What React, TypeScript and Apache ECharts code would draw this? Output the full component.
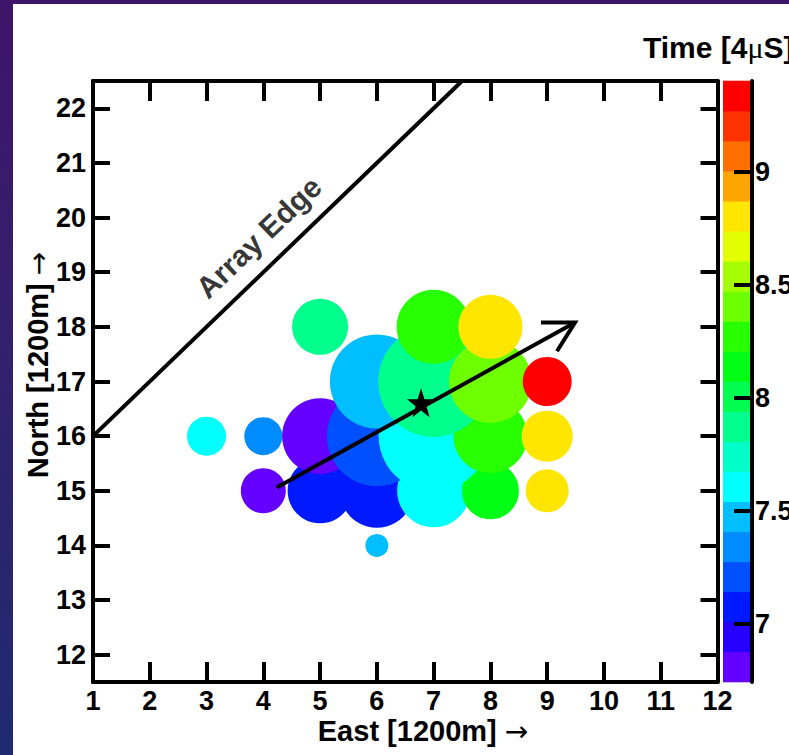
import React, { useEffect, useRef } from "react";
import * as echarts from "echarts";

// ---------- data ----------
const xTicks = [1, 2, 3, 4, 5, 6, 7, 8, 9, 10, 11, 12];
const yTicks = [12, 13, 14, 15, 16, 17, 18, 19, 20, 21, 22];
const colorTicks = [7, 7.5, 8, 8.5, 9];
const timeMin = 6.743;
const timeMax = 9.404;
const palette = [
  "#6400ff", "#2800ff", "#0019ff", "#0050ff", "#008cff",
  "#00beff", "#00ffff", "#00ffc8", "#00ff8c", "#00ff50",
  "#00ff14", "#28ff00", "#6eff00", "#a5ff00", "#e1ff00",
  "#ffe600", "#ffa500", "#ff6e00", "#ff3300", "#ff0000",
];

// detector stations (drawn south to north, west to east)
const stationEast = [6, 4, 5, 6, 7, 8, 9, 3, 4, 5, 6, 7, 8, 9, 6, 7, 8, 9, 5, 7, 8];
const stationNorth = [14, 15, 15, 15, 15, 15, 15, 16, 16, 16, 16, 16, 16, 16, 17, 17, 17, 17, 18, 18, 18];
const stationSize = [23, 45, 65, 74, 73, 57, 43, 39, 38, 76, 100, 110, 74, 51, 94, 111, 83, 49, 56, 74, 64];
const stationTime = [7.47, 6.78, 7.08, 7.09, 7.6, 8.13, 8.8, 7.62, 7.34, 6.8, 7.21, 7.61, 8.27, 8.81, 7.48, 7.87, 8.41, 9.38, 7.88, 8.26, 8.79];

const edgeLine = [[1, 16], [7.5, 22.5]];
const edgeLabelPos = [3.92, 19.64];
const showerArrow = [[4.236, 15.06, 9.49, 18.08]];
const corePos = [[6.778, 16.613]];

const FONT = "'Liberation Sans', Arial, Helvetica, sans-serif";
const STAR = "path://M50,0 L61.8,35.1 L98.1,35.1 L68.8,56.8 L79.4,91 L50,70 L20.6,91 L31.2,56.8 L1.9,35.1 L38.2,35.1 Z";

export default function App() {
  const ref = useRef<HTMLDivElement>(null);

  useEffect(() => {
    document.body.style.margin = "0";
    if (!ref.current) return;
    const chart = echarts.init(ref.current, undefined, { renderer: "svg" });

    const step = (timeMax - timeMin) / palette.length;
    const bands = palette.map((_, i) => [timeMin + i * step, timeMin + (i + 1) * step, i]);
    const pieces = palette.map((c, i) =>
      i === palette.length - 1
        ? { gte: timeMin + i * step, lte: timeMax + 1, color: c }
        : { gte: i === 0 ? timeMin - 1 : timeMin + i * step, lt: timeMin + (i + 1) * step, color: c }
    );

    const black = "#000";
    const lineSt = { color: black, width: 4 };
    const labelSt = { color: black, fontSize: 27, fontWeight: "bold", fontFamily: FONT };
    const arrowFont = "'DejaVu Sans', sans-serif";

    const option: any = {
      animation: false,
      grid: [
        { left: 93, top: 81, width: 624.5, height: 601, containLabel: false, outerBoundsMode: "none" },
        { left: 723, top: 81, width: 29, height: 601, containLabel: false, outerBoundsMode: "none" },
      ],
      xAxis: [
        {
          gridIndex: 0, type: "value", min: xTicks[0], max: xTicks[xTicks.length - 1], interval: 1,
          position: "bottom", z: 10,
          axisLine: { show: true, onZero: false, lineStyle: lineSt },
          axisTick: { show: true, inside: true, length: 20, lineStyle: lineSt },
          axisLabel: { show: true, margin: 5, showMinLabel: true, showMaxLabel: true, hideOverlap: false, ...labelSt },
          splitLine: { show: false },
        },
        {
          gridIndex: 0, type: "value", min: xTicks[0], max: xTicks[xTicks.length - 1], interval: 1,
          position: "top", z: 10,
          axisLine: { show: true, onZero: false, lineStyle: lineSt },
          axisTick: { show: true, inside: true, length: 20, lineStyle: lineSt },
          axisLabel: { show: false },
          splitLine: { show: false },
        },
        { gridIndex: 1, type: "value", min: 0, max: 1, show: false },
      ],
      yAxis: [
        {
          gridIndex: 0, type: "value", min: 11.5, max: 22.5, position: "left", z: 10,
          axisLine: { show: true, onZero: false, lineStyle: lineSt },
          axisTick: { show: true, inside: true, length: 17, customValues: yTicks, lineStyle: lineSt },
          axisLabel: { show: true, margin: 7, customValues: yTicks, ...labelSt },
          splitLine: { show: false },
        },
        {
          gridIndex: 0, type: "value", min: 11.5, max: 22.5, position: "right", z: 10,
          axisLine: { show: true, onZero: false, lineStyle: lineSt },
          axisTick: { show: true, inside: true, length: 17, customValues: yTicks, lineStyle: lineSt },
          axisLabel: { show: false },
          splitLine: { show: false },
        },
        {
          gridIndex: 1, type: "value", min: timeMin, max: timeMax, position: "right", z: 10,
          axisLine: { show: true, onZero: false, lineStyle: lineSt },
          axisTick: { show: true, inside: true, length: 18, customValues: colorTicks, lineStyle: lineSt },
          axisLabel: { show: true, margin: 3, customValues: colorTicks, formatter: (v: number) => String(v), ...labelSt },
          splitLine: { show: false },
        },
      ],
      visualMap: [
        { type: "piecewise", show: false, seriesIndex: 0, dimension: 3, pieces },
      ],
      graphic: [
        {
          type: "text", x: 423, y: 731, z: 20,
          style: {
            text: "{b|East [1200m]\u00a0}{a|→}",
            align: "center", verticalAlign: "middle",
            rich: {
              b: { fontSize: 29, fontWeight: "bold", fontFamily: FONT, fill: black },
              a: { fontSize: 28, fontWeight: "normal", fontFamily: arrowFont, fill: black },
            },
          },
        },
        {
          type: "text", x: 38, y: 365, rotation: Math.PI / 2, z: 20,
          style: {
            text: "{b|North [1200m]\u00a0}{a|→}",
            align: "center", verticalAlign: "middle",
            rich: {
              b: { fontSize: 29, fontWeight: "bold", fontFamily: FONT, fill: black },
              a: { fontSize: 28, fontWeight: "normal", fontFamily: arrowFont, fill: black },
            },
          },
        },
        {
          type: "text", x: 643, y: 47, z: 20,
          style: {
            text: "{b|Time [4}{m|μ}{b|S]}",
            align: "left", verticalAlign: "middle",
            rich: {
              b: { fontSize: 30, fontWeight: "bold", fontFamily: FONT, fill: black },
              m: { fontSize: 30, fontWeight: "normal", fontFamily: "'Liberation Serif', serif", fill: black },
            },
          },
        },
      ],
      series: [
        {
          type: "scatter", xAxisIndex: 0, yAxisIndex: 0, silent: true,
          symbol: "circle",
          symbolSize: (v: number[]) => v[2],
          itemStyle: { opacity: 1 },
          data: stationEast.map((x, i) => [x, stationNorth[i], stationSize[i], stationTime[i]]),
          z: 2,
        },
        {
          type: "line", xAxisIndex: 0, yAxisIndex: 0, silent: true,
          data: edgeLine, showSymbol: false, symbol: "none",
          lineStyle: { color: black, width: 4, cap: "butt" },
          z: 3,
        },
        {
          type: "scatter", xAxisIndex: 0, yAxisIndex: 0, silent: true,
          data: [edgeLabelPos], symbolSize: 1, itemStyle: { color: "rgba(0,0,0,0)" },
          label: {
            show: true, position: "inside", formatter: "Array Edge", rotate: 43.9,
            color: black, fontSize: 30, fontWeight: "bold", fontFamily: FONT,
            align: "center", verticalAlign: "middle",
          },
          z: 3,
        },
        {
          type: "custom", xAxisIndex: 0, yAxisIndex: 0, silent: true,
          data: showerArrow,
          renderItem: (_p: any, api: any) => {
            const s = api.coord([api.value(0), api.value(1)]);
            const e = api.coord([api.value(2), api.value(3)]);
            const ang = Math.atan2(s[1] - e[1], s[0] - e[0]);
            const head = 34;
            const spread = (29 * Math.PI) / 180;
            const b1 = [e[0] + head * Math.cos(ang + spread), e[1] + head * Math.sin(ang + spread)];
            const b2 = [e[0] + head * Math.cos(ang - spread), e[1] + head * Math.sin(ang - spread)];
            return {
              type: "group",
              children: [
                { type: "line", shape: { x1: s[0], y1: s[1], x2: e[0], y2: e[1] }, style: { stroke: black, lineWidth: 4 } },
                { type: "polyline", shape: { points: [b1, e, b2] }, style: { stroke: black, lineWidth: 4, fill: null } },
              ],
            };
          },
          z: 4,
        },
        {
          type: "scatter", xAxisIndex: 0, yAxisIndex: 0, silent: true,
          data: corePos, symbol: STAR, symbolSize: [28, 29],
          itemStyle: { color: black, opacity: 1 },
          z: 5,
        },
        {
          type: "custom", xAxisIndex: 2, yAxisIndex: 2, silent: true,
          data: bands,
          renderItem: (_p: any, api: any) => {
            const lo = api.value(0);
            const hi = api.value(1);
            const idx = api.value(2);
            const p0 = api.coord([0, hi]);
            const p1 = api.coord([1, lo]);
            return {
              type: "rect",
              shape: { x: p0[0], y: p0[1] - 0.3, width: p1[0] - p0[0], height: p1[1] - p0[1] + 0.6 },
              style: { fill: palette[idx] },
            };
          },
          z: 2,
        },
      ],
    };

    chart.setOption(option);
    return () => chart.dispose();
  }, []);

  return (
    <div
      style={{
        position: "relative",
        width: 789,
        height: 755,
        overflow: "hidden",
        background: "linear-gradient(180deg, #3d1568 0%, #33206e 45%, #1f2a70 100%)",
      }}
    >
      <div style={{ position: "absolute", left: 13, top: 4, right: 0, bottom: 0, background: "#fff" }} />
      <div ref={ref} style={{ position: "absolute", left: 0, top: 0, width: 789, height: 755 }} />
    </div>
  );
}
